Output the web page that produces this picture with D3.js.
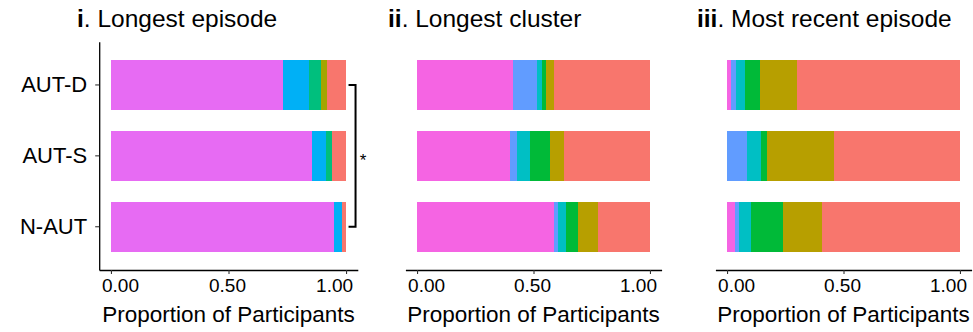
<!DOCTYPE html>
<html>
<head>
<meta charset="utf-8">
<script src="https://cdn.jsdelivr.net/npm/d3@7"></script>
<style>
  html, body { margin: 0; padding: 0; background: #fff; }
  svg { display: block; font-family: "Liberation Sans", Arial, sans-serif; }
</style>
</head>
<body>
<svg id="chart" width="973" height="332"></svg>
<script>
// Participant groups, top to bottom
const groups = ["AUT-D", "AUT-S", "N-AUT"];

// Proportions per group, segments ordered left to right
const longestEpisode = [
  [0.732, 0.111, 0.051, 0.027, 0.079],
  [0.855, 0.060, 0.026, 0.000, 0.059],
  [0.949, 0.034, 0.000, 0.000, 0.017]
];
const longestCluster = [
  [0.411, 0.104, 0.021, 0.017, 0.034, 0.413],
  [0.399, 0.030, 0.056, 0.086, 0.060, 0.369],
  [0.588, 0.017, 0.034, 0.052, 0.086, 0.223]
];
const mostRecentEpisode = [
  [0.017, 0.021, 0.039, 0.064, 0.159, 0.700],
  [0.000, 0.086, 0.060, 0.026, 0.288, 0.540],
  [0.034, 0.017, 0.052, 0.137, 0.167, 0.593]
];

const colors5 = ["#E76BF3", "#00B0F6", "#00BF7D", "#A3A500", "#F8766D"];
const colors6 = ["#F564E3", "#619CFF", "#00BFC4", "#00BA38", "#B79F00", "#F8766D"];

const xTicks = [0, 0.5, 1];
const numerals = ["i", "ii", "iii"];
const titles = ["Longest episode", "Longest cluster", "Most recent episode"];
const xLabel = "Proportion of Participants";

const panels = [
  { data: longestEpisode, colors: colors5, left: 99.2, right: 357.8, titleX: 77, yAxis: true, bracket: true },
  { data: longestCluster, colors: colors6, left: 405.4, right: 661.6, titleX: 388, yAxis: false, bracket: false },
  { data: mostRecentEpisode, colors: colors6, left: 715.4, right: 971.6, titleX: 697, yAxis: false, bracket: false }
];

const svg = d3.select("#chart");
const plotTop = 41.7, plotBottom = 270;

const y = d3.scaleBand()
  .domain(groups)
  .range([plotTop, plotBottom])
  .paddingInner(0.29)
  .paddingOuter(0.255);

panels.forEach((p, pi) => {
  const x = d3.scaleLinear().domain([-0.05, 1.05]).range([p.left, p.right]);
  const g = svg.append("g");

  // stacked bars
  const keys = d3.range(p.data[0].length);
  const rows = p.data.map((vals, i) => {
    const o = { group: groups[i] };
    keys.forEach(k => { o[k] = vals[k]; });
    return o;
  });
  const series = d3.stack().keys(keys)(rows);
  series.forEach((s, si) => {
    g.append("g")
      .attr("fill", p.colors[si])
      .selectAll("rect")
      .data(s)
      .join("rect")
      .attr("x", d => x(d[0]))
      .attr("width", d => Math.max(0, x(d[1]) - x(d[0])))
      .attr("y", d => y(d.data.group))
      .attr("height", y.bandwidth())
      .attr("shape-rendering", "crispEdges");
  });

  // x axis
  const xa = g.append("g")
    .attr("transform", `translate(0,${plotBottom})`)
    .call(d3.axisBottom(x).tickValues(xTicks).tickFormat(d3.format(".2f")).tickSize(4).tickSizeOuter(0));
  xa.select(".domain").attr("stroke", "#000").attr("stroke-width", 1.3);
  xa.selectAll(".tick line").attr("stroke", "#333").attr("stroke-width", 1.1);
  xa.selectAll(".tick text")
    .attr("fill", "#000")
    .attr("font-size", 19)
    .attr("y", 9)
    .attr("x", d => 9 - 21 * d);

  // x axis title
  g.append("text")
    .attr("x", (p.left + p.right) / 2)
    .attr("y", 322)
    .attr("text-anchor", "middle")
    .attr("font-size", 22.5)
    .attr("fill", "#000")
    .text(xLabel);

  // y axis (first panel only)
  if (p.yAxis) {
    const ya = g.append("g")
      .attr("transform", `translate(${p.left},0)`)
      .call(d3.axisLeft(y).tickSize(4).tickSizeOuter(0).tickPadding(8));
    ya.select(".domain").attr("stroke", "#000").attr("stroke-width", 1.3);
    ya.selectAll(".tick line").attr("stroke", "#333").attr("stroke-width", 1.1);
    ya.selectAll(".tick text").attr("fill", "#000").attr("font-size", 22);
  }

  // significance bracket between AUT-D and N-AUT
  if (p.bracket) {
    const bx = x(1) + 9.5, bx0 = x(1) + 2.5;
    const y1 = y("AUT-D") + y.bandwidth() / 2;
    const y2 = y("N-AUT") + y.bandwidth() / 2;
    g.append("path")
      .attr("d", `M${bx0},${y1}H${bx}V${y2}H${bx0}`)
      .attr("fill", "none")
      .attr("stroke", "#000")
      .attr("stroke-width", 2);
    g.append("text")
      .attr("x", bx + 7.5)
      .attr("y", y("AUT-S") + y.bandwidth() / 2 + 10)
      .attr("text-anchor", "middle")
      .attr("font-size", 17)
      .attr("fill", "#000")
      .text("*");
  }

  // panel title with bold numeral
  const t = svg.append("text")
    .attr("x", p.titleX)
    .attr("y", 27)
    .attr("font-size", 24.5)
    .attr("fill", "#000");
  t.append("tspan").attr("font-weight", "bold").text(numerals[pi]);
  t.append("tspan").text(". " + titles[pi]);
});
</script>
</body>
</html>
